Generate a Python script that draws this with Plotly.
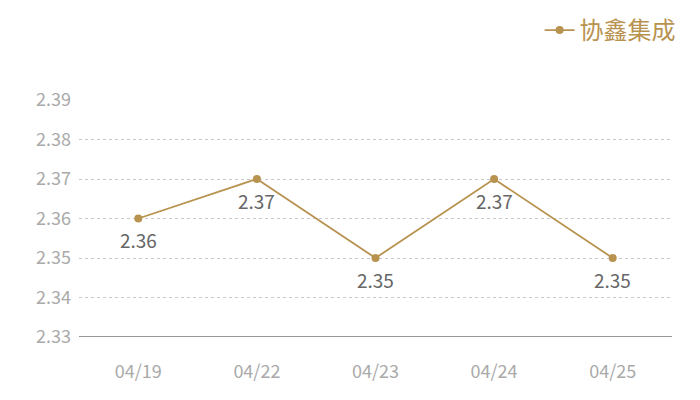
import plotly.graph_objects as go

dates = ["04/19", "04/22", "04/23", "04/24", "04/25"]
values = [2.36, 2.37, 2.35, 2.37, 2.35]
series_name = "协鑫集成"
y_ticks = [2.33, 2.34, 2.35, 2.36, 2.37, 2.38, 2.39]

gold = "#b8924f"
font_family = "Noto Sans CJK SC, Noto Sans, sans-serif"

fig = go.Figure()
fig.add_trace(go.Scatter(
    x=dates, y=values, name=series_name,
    mode="lines+markers",
    line=dict(color=gold, width=1.8),
    marker=dict(color=gold, size=8),
))
for d, v in zip(dates, values):
    fig.add_annotation(x=d, y=v, xref="x", yref="y", text=f"{v:.2f}",
                       showarrow=False, yshift=-21,
                       font=dict(size=19, color="#666666", family=font_family))

fig.update_layout(
    width=692, height=392,
    margin=dict(l=71, r=28, t=92, b=63),
    paper_bgcolor="white", plot_bgcolor="white",
    showlegend=True,
    legend=dict(xref="container", yref="container",
                x=0.972, y=1.0, xanchor="right", yanchor="top",
                orientation="h",
                font=dict(size=24, color=gold, family=font_family),
                itemwidth=30),
    xaxis=dict(type="category", range=[-0.5, 4.5], showgrid=False,
               showline=False, ticks="", ticklabelstandoff=22,
               tickfont=dict(size=18, color="#aaaaaa", family=font_family)),
    yaxis=dict(range=[2.33, 2.39], tickvals=y_ticks,
               ticktext=[f"{t:.2f}" for t in y_ticks],
               showgrid=True, gridcolor="#c8c8c8", griddash="dot", gridwidth=1,
               zeroline=False, showline=False, ticks="",
               ticklabelstandoff=7,
               tickfont=dict(size=18, color="#aaaaaa", family=font_family)),
)
fig.add_shape(type="line", xref="paper", yref="y", x0=0, x1=1, layer="above",
              y0=2.33, y1=2.33, line=dict(color="#333333", width=1.2))

fig.write_html("out.html")
